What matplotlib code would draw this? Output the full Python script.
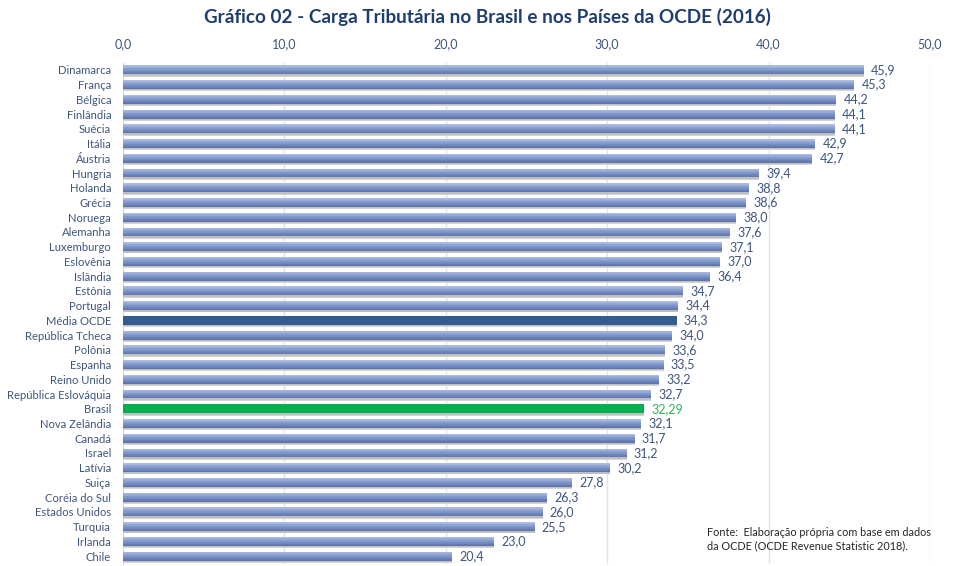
import matplotlib
matplotlib.use("Agg")
import matplotlib.pyplot as plt
import numpy as np
from matplotlib.colors import to_rgb

countries = ["Dinamarca", "França", "Bélgica", "Finlândia", "Suécia", "Itália", "Áustria",
             "Hungria", "Holanda", "Grécia", "Noruega", "Alemanha", "Luxemburgo", "Eslovênia",
             "Islândia", "Estônia", "Portugal", "Média OCDE", "República Tcheca", "Polônia",
             "Espanha", "Reino Unido", "República Eslováquia", "Brasil", "Nova Zelândia",
             "Canadá", "Israel", "Latívia", "Suiça", "Coréia do Sul", "Estados Unidos",
             "Turquia", "Irlanda", "Chile"]
values = [45.9, 45.3, 44.2, 44.1, 44.1, 42.9, 42.7, 39.4, 38.8, 38.6, 38.0, 37.6, 37.1, 37.0,
          36.4, 34.7, 34.4, 34.3, 34.0, 33.6, 33.5, 33.2, 32.7, 32.29, 32.1, 31.7, 31.2, 30.2,
          27.8, 26.3, 26.0, 25.5, 23.0, 20.4]
value_labels = ["45,9", "45,3", "44,2", "44,1", "44,1", "42,9", "42,7", "39,4", "38,8", "38,6",
                "38,0", "37,6", "37,1", "37,0", "36,4", "34,7", "34,4", "34,3", "34,0", "33,6",
                "33,5", "33,2", "32,7", "32,29", "32,1", "31,7", "31,2", "30,2", "27,8", "26,3",
                "26,0", "25,5", "23,0", "20,4"]
xticks = [0, 10, 20, 30, 40, 50]
xtick_labels = ["0,0", "10,0", "20,0", "30,0", "40,0", "50,0"]

plt.rcParams['font.family'] = ['Lato', 'DejaVu Sans']

fig = plt.figure(figsize=(9.75, 5.66), dpi=100)
ax = fig.add_axes([123/975, 1 - 563.5/566, (930-123)/975, (563.5-62.5)/566])

n = len(countries)
ypos = np.arange(n)
bar_h = 0.6

# soft shadow below bars
ax.barh(ypos + 0.16, values, height=bar_h, color="#d4d4d4", zorder=2)
ax.barh(ypos + 0.10, values, height=bar_h, color="#bfbfbf", zorder=2)

# gradient bars (top light -> bottom dark)
top = np.array(to_rgb("#b2c1e3"))
mid = np.array(to_rgb("#8199cc"))
bot = np.array(to_rgb("#5a72a8"))
nstrips = 12
edges = np.linspace(-bar_h / 2, bar_h / 2, nstrips + 1)
for i in range(nstrips):
    t = (i + 0.5) / nstrips
    if t < 0.45:
        col = top + (mid - top) * (t / 0.45)
    else:
        col = mid + (bot - mid) * ((t - 0.45) / 0.55)
    hgt = edges[i + 1] - edges[i]
    ctr = (edges[i] + edges[i + 1]) / 2
    ax.barh(ypos + ctr, values, height=hgt * 1.05, color=col, zorder=3, linewidth=0)

# highlighted bars
for y, v, c in zip(ypos, values, countries):
    if c == "Média OCDE":
        ax.barh(y, v, height=bar_h, color="#335c8f", zorder=4)
    elif c == "Brasil":
        ax.barh(y, v, height=bar_h, color="#00b050", zorder=4)

label_color = "#3f5580"
for y, v, lab, c in zip(ypos, values, value_labels, countries):
    col = "#2fb35a" if c == "Brasil" else label_color
    ax.text(v + 0.45, y, lab, va="center", ha="left", fontsize=9, color=col, zorder=5)

ax.set_ylim(n - 0.5, -0.5)
ax.set_xlim(0, 50)
ax.set_yticks(ypos)
ax.set_yticklabels(countries, fontsize=8.1, color=label_color)
ax.xaxis.tick_top()
ax.set_xticks(xticks)
ax.set_xticklabels(xtick_labels, fontsize=9, color=label_color)
ax.tick_params(axis='y', length=0, pad=8.5)
ax.tick_params(axis='x', length=0, pad=9)
ax.grid(axis='x', color="#dce4f0", linewidth=1, zorder=0)
ax.set_axisbelow(True)
for s in ["top", "right", "bottom"]:
    ax.spines[s].set_visible(False)
ax.spines["left"].set_color("#d9d9d9")
ax.spines["left"].set_zorder(1)

fig.text(0.5, 1 - 17/566, "Gráfico 02 - Carga Tributária no Brasil e nos Países da OCDE (2016)",
         ha="center", va="center", fontsize=13.6, fontweight="bold", color="#1f3d6e")

fig.text(707/975, 1 - 539/566, "Fonte:  Elaboração própria com base em dados\nda OCDE (OCDE Revenue Statistic 2018).",
         ha="left", va="center", fontsize=7.8, color="#262626", linespacing=1.3)

fig.savefig("out.png", dpi=100)
